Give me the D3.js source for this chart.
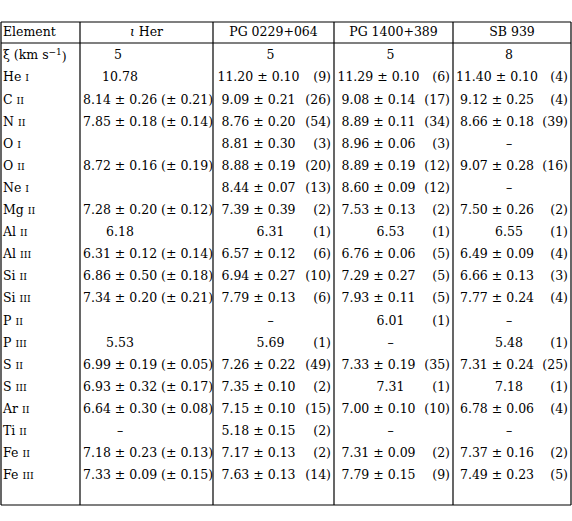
<!DOCTYPE html>
<html><head><meta charset="utf-8">
<script src="https://cdn.jsdelivr.net/npm/d3@7"></script>
<style>body{margin:0;background:#fff}text{font-family:"DejaVu Serif","Liberation Serif",serif;font-size:12.5px;fill:#000}</style>
</head><body><div id="chart"></div>
<script>
const stars = ["ι Her", "PG 0229+064", "PG 1400+389", "SB 939"];
const microturb = ["5", "5", "5", "8"];
const elements = ["He", "C", "N", "O", "O", "Ne", "Mg", "Al", "Al", "Si", "Si", "P", "P", "S", "S", "Ar", "Ti", "Fe", "Fe"];
const ions = ["I", "II", "II", "I", "II", "I", "II", "II", "III", "II", "III", "II", "III", "II", "III", "II", "II", "II", "III"];
const iHer = ["10.78", "8.14±0.26", "7.85±0.18", "", "8.72±0.16", "", "7.28±0.20", "6.18", "6.31±0.12", "6.86±0.50", "7.34±0.20", "", "5.53", "6.99±0.19", "6.93±0.32", "6.64±0.30", "–", "7.18±0.23", "7.33±0.09"];
const iHerSys = ["", "±0.21", "±0.14", "", "±0.19", "", "±0.12", "", "±0.14", "±0.18", "±0.21", "", "", "±0.05", "±0.17", "±0.08", "", "±0.13", "±0.15"];
const pg0229 = ["11.20±0.10", "9.09±0.21", "8.76±0.20", "8.81±0.30", "8.88±0.19", "8.44±0.07", "7.39±0.39", "6.31", "6.57±0.12", "6.94±0.27", "7.79±0.13", "–", "5.69", "7.26±0.22", "7.35±0.10", "7.15±0.10", "5.18±0.15", "7.17±0.13", "7.63±0.13"];
const pg0229N = [9, 26, 54, 3, 20, 13, 2, 1, 6, 10, 6, null, 1, 49, 2, 15, 2, 2, 14];
const pg1400 = ["11.29±0.10", "9.08±0.14", "8.89±0.11", "8.96±0.06", "8.89±0.19", "8.60±0.09", "7.53±0.13", "6.53", "6.76±0.06", "7.29±0.27", "7.93±0.11", "6.01", "–", "7.33±0.19", "7.31", "7.00±0.10", "–", "7.31±0.09", "7.79±0.15"];
const pg1400N = [6, 17, 34, 3, 12, 12, 2, 1, 5, 5, 5, 1, null, 35, 1, 10, null, 2, 9];
const sb939 = ["11.40±0.10", "9.12±0.25", "8.66±0.18", "–", "9.07±0.28", "–", "7.50±0.26", "6.55", "6.49±0.09", "6.66±0.13", "7.77±0.24", "–", "5.48", "7.31±0.24", "7.18", "6.78±0.06", "–", "7.37±0.16", "7.49±0.23"];
const sb939N = [4, 4, 39, null, 16, null, 2, 1, 4, 3, 4, null, 1, 25, 1, 4, null, 2, 5];

const W = 572, H = 521;
const svg = d3.select("#chart").append("svg").attr("width", W).attr("height", H);

const colEdges = [1, 80, 213, 334, 453, 571];
const tableTop = 22, headBottom = 43, tableBottom = 505;
// row centres: xi row, then elements
const y = d3.scaleLinear().domain([0, 20]).range([55, 497]);

const g = svg.append("g");
[tableTop, headBottom, tableBottom].forEach(v => g.append("line").attr("x1", colEdges[0]).attr("x2", colEdges[5])
    .attr("y1", v).attr("y2", v).attr("stroke", "#000").attr("stroke-width", 1.2));
colEdges.forEach(x => g.append("line").attr("x1", x).attr("x2", x).attr("y1", tableTop).attr("y2", tableBottom)
    .attr("stroke", "#000").attr("stroke-width", 1.2));

function txt(x, yy, s, anchor) {
    return g.append("text").attr("x", x).attr("y", yy).attr("dy", "0.35em")
        .attr("text-anchor", anchor || "start").text(s);
}
function pm(s) { return s.replace("±", " ± "); }

// header
txt(3, 32, "Element");
stars.forEach((s, i) => {
    const t = txt((colEdges[i + 1] + colEdges[i + 2]) / 2, 32, "", "middle");
    if (i === 0) { t.append("tspan").attr("font-style", "italic").text("ι"); t.append("tspan").text(" Her"); }
    else t.text(s);
});

// xi row
const xi = txt(3, y(0), "ξ (km s");
xi.append("tspan").attr("font-size", "9px").attr("dy", "-0.45em").text("−1");
xi.append("tspan").attr("dy", "0.45em").text(")");
microturb.forEach((v, i) => {
    const c = i === 0 ? 118 : (colEdges[i + 1] + colEdges[i + 2]) / 2 - 3;
    txt(c, y(0), v, "middle");
});

elements.forEach((el, r) => {
    const yy = y(r + 1);
    const t = txt(3, yy, el + " ");
    t.append("tspan").attr("font-size", "9.5px").text(ions[r]);
    const v = iHer[r];
    if (v.includes("±")) {
        txt(83, yy, pm(v) + " (" + pm(iHerSys[r]).trim() + ")");
    } else if (v) {
        txt(120, yy, v, "middle");
    }
    [[pg0229, pg0229N], [pg1400, pg1400N], [sb939, sb939N]].forEach(([vals, ns], k) => {
        const l = colEdges[k + 2], rr = colEdges[k + 3];
        const s = vals[r];
        if (s.includes("±")) txt((l + rr - 30) / 2, yy, pm(s), "middle");
        else txt((l + rr) / 2 - 3, yy, s, "middle");
        if (ns[r] != null) txt(rr - 3, yy, "(" + ns[r] + ")", "end");
    });
});
</script></body></html>
